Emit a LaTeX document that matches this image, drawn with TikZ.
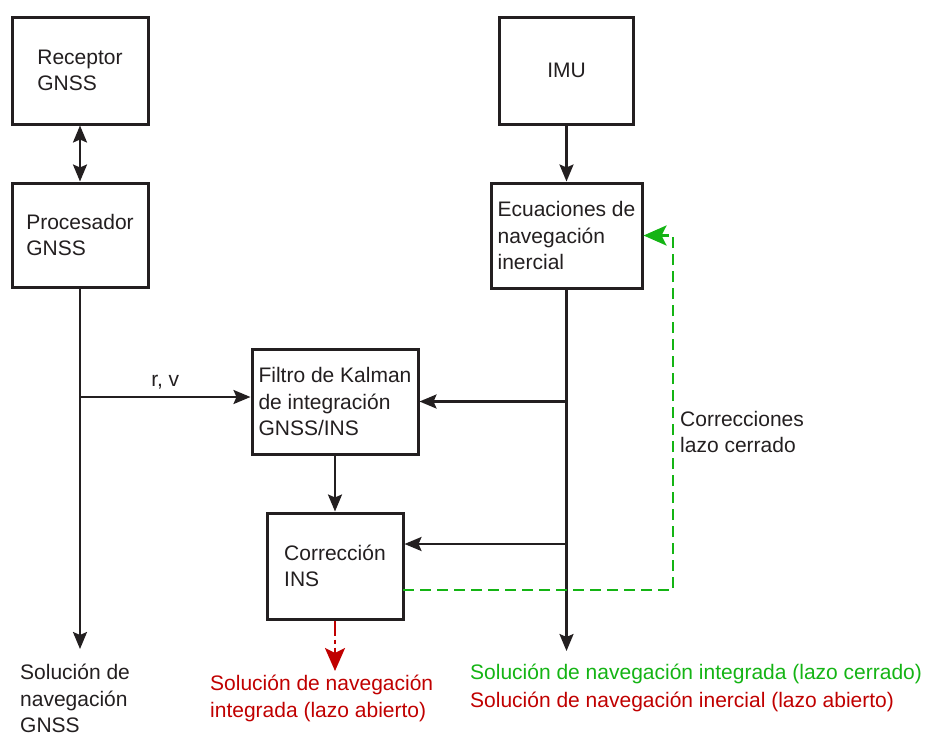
\documentclass[tikz,border=0pt]{standalone}
\usepackage{fontspec}
\setmainfont{Liberation Sans}
\usetikzlibrary{arrows.meta,calc}
\definecolor{ink}{RGB}{35,31,32}
\definecolor{loopgreen}{RGB}{20,180,20}
\definecolor{loopred}{RGB}{192,0,0}
\tikzset{
  block/.style={draw=ink, line width=3pt, fill=white, align=left, text=ink,
    font=\fontsize{21}{26.5}\selectfont, inner sep=0pt},
  flow/.style={draw=ink, line width=2.4pt, -{Stealth[length=17pt,width=14pt,inset=3pt]}},
  both/.style={draw=ink, line width=2.4pt, {Stealth[length=17pt,width=14pt,inset=3pt]}-{Stealth[length=17pt,width=14pt,inset=3pt]}},
  closedloop/.style={draw=loopgreen, line width=2.8pt, dash pattern=on 11pt off 6pt,
    -{Stealth[length=23pt,width=20pt,inset=5pt,loopgreen]}},
  openloop/.style={draw=loopred, line width=2.8pt, dash pattern=on 15pt off 4pt on 4pt off 4pt,
    -{Stealth[length=23pt,width=20pt,inset=5pt,loopred]}},
  caption/.style={align=left, anchor=north west, inner sep=0pt,
    font=\fontsize{21}{26.5}\selectfont}
}
\begin{document}
\begin{tikzpicture}[x=1pt,y=-1pt]
  \useasboundingbox (0,0) rectangle (931,736);

  % processing blocks
  \node[block, minimum width=136pt, minimum height=107pt] (rec) at (80,70.5) {Receptor\\GNSS};
  \node[block, minimum width=136pt, minimum height=104pt] (proc) at (80,235) {Procesador\\GNSS};
  \node[block, minimum width=134pt, minimum height=107pt] (imu) at (566.5,70.5) {IMU};
  \node[block, minimum width=151pt, minimum height=105pt] (ecu) at (566.5,235.5) {Ecuaciones de\\navegación\\inercial};
  \node[block, minimum width=166pt, minimum height=105pt] (kal) at (335,401.5) {Filtro de Kalman\\de integración\\GNSS/INS};
  \node[block, minimum width=136pt, minimum height=106pt] (cor) at (335,566) {Corrección\\INS};

  % free ends and branch points
  \coordinate (gnssend) at (80,649);
  \coordinate (insend) at (566.5,651);
  \coordinate (rv) at (80,397);
  \coordinate (tapk) at (566.5,401.5);
  \coordinate (tapc) at (566.5,544);
  \coordinate (corrout) at (403,590);
  \coordinate (corner) at (673,590);
  \coordinate (openend) at (335,671);

  % GNSS branch
  \draw[both] (rec) -- (proc);
  \draw[flow] (proc.south) -- (gnssend);
  \draw[flow] (rv) -- (rv -| kal.west) node[midway, above=3pt, text=ink, font=\fontsize{21}{26.5}\selectfont] {r, v};

  % inertial branch
  \draw[flow] (imu) -- (ecu);
  \draw[flow] (ecu.south) -- (insend);
  \draw[flow] (tapk) -- (kal.east);
  \draw[flow] (tapc) -- (tapc -| cor.east);
  \draw[flow] (kal) -- (cor);

  % closed loop feedback and open loop output
  \draw[closedloop] (corrout) -- (corner) |- (ecu.east);
  \draw[openloop] (cor.south) -- (openend);

  % labels
  \node[caption, text=ink] at (680,411) {Correcciones\\lazo cerrado};
  \node[caption, text=ink] at (20,664) {Solución de\\navegación\\GNSS};
  \node[caption, text=loopred] at (210,675) {Solución de navegación\\integrada (lazo abierto)};
  \node[caption, text=loopgreen] at (470,664) {Solución de navegación integrada (lazo cerrado)};
  \node[caption, text=loopred] at (470,692) {Solución de navegación inercial (lazo abierto)};
\end{tikzpicture}
\end{document}
